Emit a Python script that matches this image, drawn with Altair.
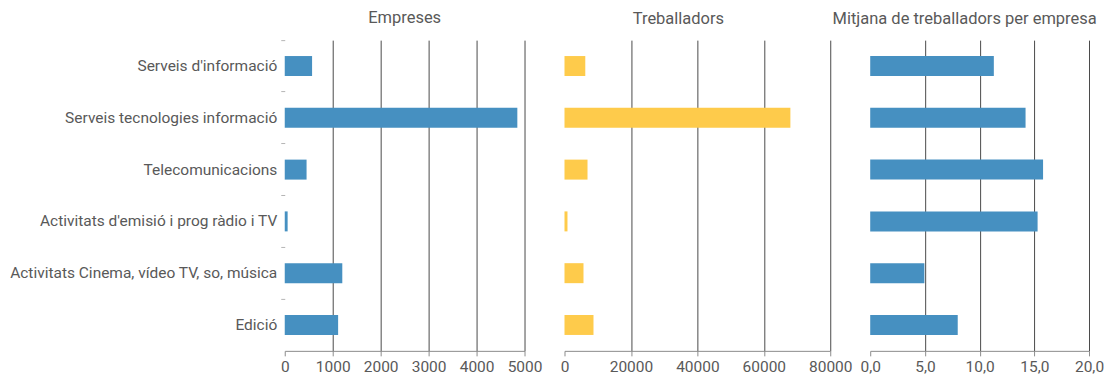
import altair as alt
import pandas as pd

categories = [
    "Serveis d'informació",
    "Serveis tecnologies informació",
    "Telecomunicacions",
    "Activitats d'emisió i prog ràdio i TV",
    "Activitats Cinema, vídeo TV, so, música",
    "Edició",
]
empreses = [570, 4850, 455, 60, 1200, 1113]
treballadors = [6260, 68000, 6930, 900, 5720, 8730]
mitjana = [11.3, 14.2, 15.8, 15.3, 4.95, 8.0]

emp_ticks = [0, 1000, 2000, 3000, 4000, 5000]
tre_ticks = [0, 20000, 40000, 60000, 80000]
mit_ticks = [0, 5, 10, 15, 20]

df = pd.DataFrame({"cat": categories, "emp": empreses, "tre": treballadors, "mit": mitjana})

FONT = "Roboto"
TEXT = "#595959"
BLUE = "#4690c1"
YELLOW = "#fecb4b"
GRID = "#4a4a4a"
AXIS = "#8c8c8c"


def panel(field, color, title, domain, ticks, width, height, label_expr, show_y, dx, offset):
    if show_y:
        y_axis = alt.Axis(
            title=None, labels=True, ticks=True, domain=False, grid=False,
            bandPosition=0, tickSize=4, tickColor="#b5b5b5", labelPadding=4,
            labelFontSize=15.5, labelColor=TEXT, labelLimit=400,
        )
    else:
        y_axis = None
    x_axis = alt.Axis(
        title=None, values=ticks, grid=True, gridColor=GRID,
        gridOpacity={"condition": {"test": "datum.value === 0", "value": 0}, "value": 1},
        domainColor=AXIS, tickColor=AXIS, tickSize=5, labelExpr=label_expr,
        labelFontSize=15.5, labelColor=TEXT, labelPadding=4, labelFlush=False,
    )
    return (
        alt.Chart(df)
        .mark_bar(color=color, size=20)
        .encode(
            x=alt.X(f"{field}:Q", scale=alt.Scale(domain=domain, nice=False, zero=True), axis=x_axis),
            y=alt.Y("cat:N", sort=categories, scale=alt.Scale(paddingInner=0, paddingOuter=0), axis=y_axis),
        )
        .properties(
            width=width, height=height,
            title=alt.TitleParams(text=title, dx=dx, offset=offset),
        )
    )


p1 = panel("emp", BLUE, "Empreses", [0, 5000], emp_ticks, 240, 311,
           "format(datum.value, 'd')", True, 0, 13)
p2 = panel("tre", YELLOW, "Treballadors", [0, 80000], tre_ticks, 266, 311,
           "format(datum.value, 'd')", False, -19, 13)
p3 = panel("mit", BLUE, "Mitjana de treballadors per empresa", [0, 20], mit_ticks, 219, 311,
           "replace(format(datum.value, '.1f'), '.', ',')", False, -15, 13)

chart = (
    alt.hconcat(p1, p2, p3, spacing=40, bounds="flush")
    .properties(padding={"left": 1, "top": 2, "right": 0, "bottom": 0})
    .configure_view(stroke=None)
    .configure_title(font=FONT, fontSize=16.5, fontWeight="normal", color=TEXT, anchor="middle")
    .configure_axis(labelFont=FONT)
)

chart.save("out.html", embed_options={"renderer": "svg", "actions": False})
